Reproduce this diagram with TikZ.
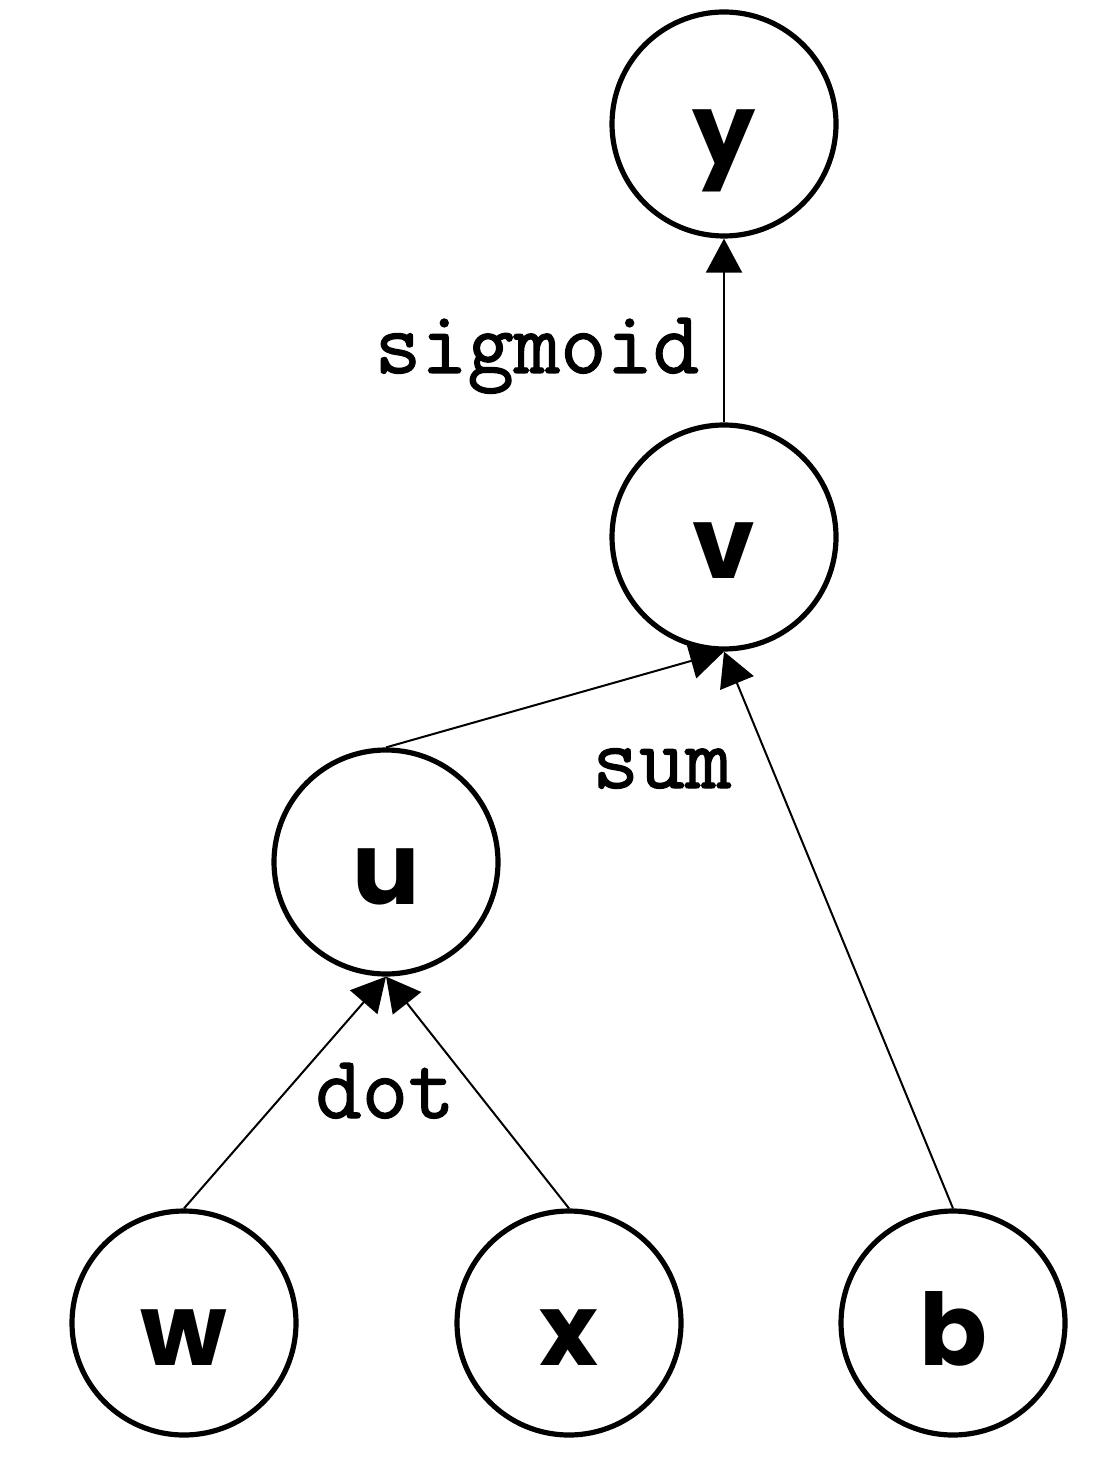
\documentclass[tikz,border=0pt]{standalone}
\usepackage{fontspec}
\usetikzlibrary{arrows.meta}
\newfontfamily\nodefont{Poppins}
\newfontfamily\labelfont{Latin Modern Mono}[FakeBold=1.3]
\begin{document}
\begin{tikzpicture}[x=0.25pt,y=-0.25pt,
  vnode/.style={circle, draw, line width=1.3pt, minimum size=56pt, inner sep=0pt,
    text height=21pt, text depth=0pt,
    font=\nodefont\bfseries\fontsize{25pt}{28pt}\selectfont},
  edge/.style={line width=0.5pt, -{Triangle[length=8.5pt,width=9pt]}},
  lbl/.style={anchor=base, inner sep=0pt, font=\labelfont\fontsize{22.5pt}{25pt}\selectfont}]
\useasboundingbox (0,0) rectangle (1102,1462);
\node[vnode] (y) at (724,124) {y};
\node[vnode] (v) at (724,537) {v};
\node[vnode] (u) at (386,862) {u};
\node[vnode] (w) at (184,1323) {w};
\node[vnode] (x) at (569,1323) {x};
\node[vnode] (b) at (953,1323) {b};
\draw[edge] (v.north) -- (y.south);
\draw[edge] (u.north) -- (v.south);
\draw[edge] (b.north) -- (v.south);
\draw[edge] (w.north) -- (u.south);
\draw[edge] (x.north) -- (u.south);
\node[lbl] (lsig) at (537,373) {sigmoid};
\node[lbl] (lsum) at (662,788) {sum};
\node[lbl] (ldot) at (385,1118) {dot};
\end{tikzpicture}
\end{document}
